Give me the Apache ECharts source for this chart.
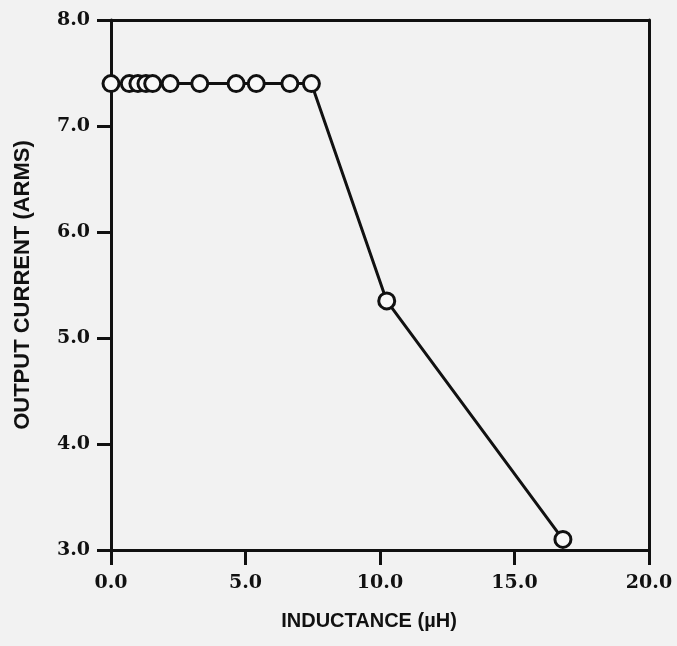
<!DOCTYPE html>
<html>
<head>
<meta charset="utf-8">
<script src="https://cdn.jsdelivr.net/npm/echarts@6/dist/echarts.min.js"></script>
<style>
html,body{margin:0;padding:0;background:#f2f2f2;}
#chart{width:677px;height:646px;}
</style>
</head>
<body>
<div id="chart"></div>
<script>
// Data
const inductance = [0, 0.68, 1.0, 1.3, 1.55, 2.2, 3.3, 4.65, 5.4, 6.65, 7.45, 10.25, 16.8];
const outputCurrent = [7.4, 7.4, 7.4, 7.4, 7.4, 7.4, 7.4, 7.4, 7.4, 7.4, 7.4, 5.35, 3.1];
const xTitle = 'INDUCTANCE (\u00B5H)';
const yTitle = 'OUTPUT CURRENT (ARMS)';

const points = inductance.map((x, i) => [x, outputCurrent[i]]);

const chart = echarts.init(document.getElementById('chart'));
const ink = '#111';
const tickFont = { fontFamily: 'DejaVu Serif', fontSize: 19, fontWeight: 'bold', color: ink };

chart.setOption({
  backgroundColor: '#f2f2f2',
  animation: false,
  grid: { left: 111, right: 28, top: 20, bottom: 96, containLabel: false },
  xAxis: [
    {
      type: 'value', min: 0, max: 20, interval: 5, position: 'bottom',
      name: xTitle, nameLocation: 'middle', nameGap: 61,
      nameTextStyle: { fontFamily: 'Liberation Sans', fontSize: 20, fontWeight: 'bold', color: ink, padding: [0, 22, 0, 0] },
      axisLine: { show: true, onZero: false, lineStyle: { color: ink, width: 3 } },
      axisTick: { show: true, inside: false, length: 15, lineStyle: { color: ink, width: 3 } },
      axisLabel: Object.assign({ margin: 24, formatter: v => v.toFixed(1) }, tickFont),
      splitLine: { show: false }
    },
    {
      type: 'value', min: 0, max: 20, position: 'top',
      axisLine: { show: true, onZero: false, lineStyle: { color: ink, width: 3 } },
      axisTick: { show: false }, axisLabel: { show: false }, splitLine: { show: false }
    }
  ],
  yAxis: [
    {
      type: 'value', min: 3, max: 8, interval: 1, position: 'left',
      name: yTitle, nameLocation: 'middle', nameGap: 77, nameRotate: 90,
      nameTextStyle: { fontFamily: 'Liberation Sans', fontSize: 22, fontWeight: 'bold', color: ink },
      axisLine: { show: true, onZero: false, lineStyle: { color: ink, width: 3 } },
      axisTick: { show: true, inside: false, length: 14, lineStyle: { color: ink, width: 3 } },
      axisLabel: Object.assign({ margin: 21, formatter: v => v.toFixed(1) }, tickFont),
      splitLine: { show: false }
    },
    {
      type: 'value', min: 3, max: 8, position: 'right',
      axisLine: { show: true, onZero: false, lineStyle: { color: ink, width: 3 } },
      axisTick: { show: false }, axisLabel: { show: false }, splitLine: { show: false }
    }
  ],
  series: [
    {
      type: 'line',
      data: points,
      xAxisIndex: 0, yAxisIndex: 0,
      symbol: 'circle', symbolSize: 16,
      lineStyle: { color: ink, width: 3 },
      itemStyle: { color: '#f8f8f8', borderColor: ink, borderWidth: 3 },
      z: 3
    }
  ]
});
</script>
</body>
</html>
